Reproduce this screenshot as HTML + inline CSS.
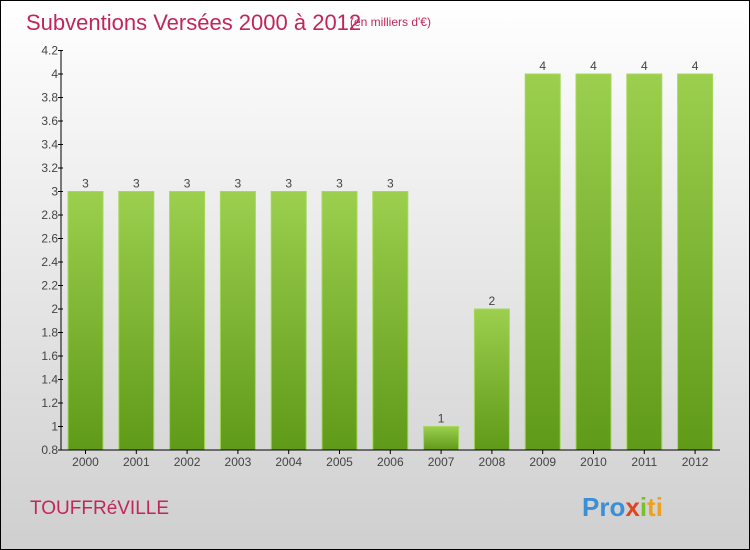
<!DOCTYPE html>
<html><head><meta charset="utf-8"><style>
body{margin:0;width:750px;height:550px;overflow:hidden}
svg{display:block;font-family:"Liberation Sans",sans-serif}
</style></head><body>
<svg width="750" height="550">
<defs>
<linearGradient id="bg" x1="0" y1="0" x2="0" y2="1"><stop offset="0" stop-color="#ffffff"/><stop offset="1" stop-color="#cfcfcf"/></linearGradient>
<linearGradient id="bar" x1="0" y1="0" x2="0" y2="1"><stop offset="0" stop-color="#9ccf4e"/><stop offset="1" stop-color="#5f9a18"/></linearGradient>
</defs>
<rect x="0.5" y="0.5" width="749" height="549" fill="url(#bg)" stroke="#000"/>
<text x="26" y="30" font-size="22" fill="#c2255c">Subventions Versées 2000 à 2012</text>
<text x="350" y="26" font-size="12" fill="#c2255c">(en milliers d'€)</text>
<text x="30" y="514" font-size="19" fill="#c2255c">TOUFFRéVILLE</text>
<g font-size="26" font-weight="bold">
<text x="582" y="516"><tspan fill="#3a8fd6">Pro</tspan><tspan fill="#e0461e">x</tspan><tspan fill="#7cbf2c">i</tspan><tspan fill="#f0a020">ti</tspan></text>
</g>
<g id="plot"></g>
</svg>
<script>
const categories=["2000","2001","2002","2003","2004","2005","2006","2007","2008","2009","2010","2011","2012"];
const values=[3,3,3,3,3,3,3,1,2,4,4,4,4];
const yTicks=[0.8,1,1.2,1.4,1.6,1.8,2,2.2,2.4,2.6,2.8,3,3.2,3.4,3.6,3.8,4,4.2];
const NS="http://www.w3.org/2000/svg";
const g=document.getElementById('plot');
const y=v=>450-(v-0.8)*117.5;
const x=i=>85.5+i*50.8;
function el(t,a){const e=document.createElementNS(NS,t);for(const k in a)e.setAttribute(k,a[k]);g.appendChild(e);return e;}
categories.forEach((c,i)=>{
 const r=el('rect',{x:x(i)-17.5,y:y(values[i]),width:35,height:450-y(values[i]),fill:'url(#bar)',stroke:'#a6d85e','stroke-width':1});
 
 
 const t=el('text',{x:x(i),y:y(values[i])-4,'font-size':12,fill:'#444','text-anchor':'middle'});
 t.textContent=values[i];
 
 
 const l=el('text',{x:x(i),y:466,'font-size':12,fill:'#444','text-anchor':'middle'});
 l.textContent=c;
 
 
 el('line',{x1:x(i),x2:x(i),y1:450,y2:454,stroke:'#000'});
});
yTicks.forEach(v=>{
 el('line',{x1:58,x2:63,y1:y(v),y2:y(v),stroke:'#000'});
 const t=el('text',{x:58,y:y(v)+4,'font-size':12,fill:'#444','text-anchor':'end'});
 t.textContent=String(v);
 
 
});
const ya=el('line',{x1:61,x2:61,y1:y(4.2),y2:450,stroke:'#000'});


const xa=el('line',{x1:61,x2:720,y1:450,y2:450,stroke:'#000'});


</script>
</body></html>
